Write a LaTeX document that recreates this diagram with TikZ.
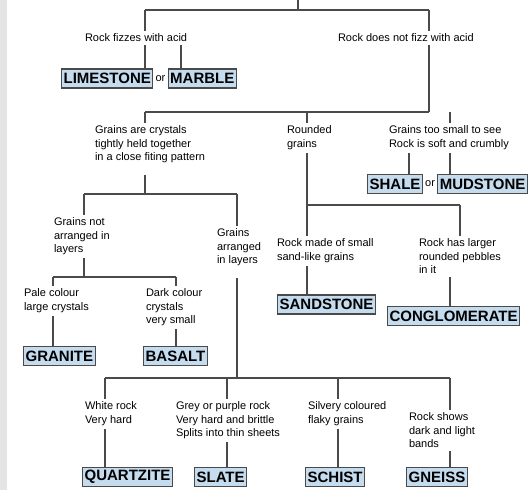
\documentclass[tikz,border=0pt]{standalone}
\usepackage{fontspec}
\setmainfont{Liberation Sans}
\usetikzlibrary{positioning}
\definecolor{rockblue}{HTML}{C5DCEE}
\definecolor{stripgrey}{HTML}{E4E4E4}
\definecolor{linegrey}{HTML}{4A4A4A}
\begin{document}
\begin{tikzpicture}[x=1pt,y=-1pt,
		txt/.style={anchor=north west, align=left, inner sep=0pt, outer xsep=0pt, outer ysep=3pt, font=\fontsize{11}{13.5}\selectfont},
		rock/.style={draw=linegrey, line width=1.2pt, fill=rockblue, inner xsep=2pt, inner ysep=0pt, minimum height=19pt, anchor=west, font=\fontsize{15}{15}\selectfont\bfseries},
		orword/.style={inner sep=0pt, font=\fontsize{11}{11}\selectfont},
		link/.style={draw=linegrey, line width=1.2pt}]
			\fill[white] (0,0) rectangle (528,490);
			\fill[stripgrey] (0,0) rectangle (7,490);
			\useasboundingbox (0,0) rectangle (528,490);
		
			% questions
			\node[txt] (fizz) at (85,31) {Rock fizzes with acid};
			\node[txt] (nofizz) at (338,31) {Rock does not fizz with acid};
			\node[txt] (crystals) at (95,123) {Grains are crystals\\tightly held together\\in a close fiting pattern};
			\node[txt] (rounded) at (287,123) {Rounded\\grains};
			\node[txt] (small) at (389,123) {Grains too small to see\\Rock is soft and crumbly};
			\node[txt] (notlayer) at (54,215) {Grains not\\arranged in\\layers};
			\node[txt] (layer) at (217,226) {Grains\\arranged\\in layers};
			\node[txt] (sandy) at (277,236) {Rock made of small\\sand-like grains};
			\node[txt] (pebbly) at (419,236) {Rock has larger\\rounded pebbles\\in it};
			\node[txt] (pale) at (24,286) {Pale colour\\large crystals};
			\node[txt] (dark) at (146,286) {Dark colour\\crystals\\very small};
			\node[txt] (white) at (85,399) {White rock\\Very hard};
			\node[txt] (grey) at (176,399) {Grey or purple rock\\Very hard and brittle\\Splits into thin sheets};
			\node[txt] (silvery) at (308,399) {Silvery coloured\\flaky grains};
			\node[txt] (bands) at (409,410) {Rock shows\\dark and light\\bands};
			
			% rocks
			\node[rock] (limestone) at (61,78.5) {LIMESTONE};
			\node[orword, right=2pt of limestone] (orA) {or};
			\node[rock, right=2pt of orA] (marble) {MARBLE};
			\node[rock] (shale) at (367,184) {SHALE};
			\node[orword, right=2pt of shale] (orB) {or};
			\node[rock, right=2pt of orB] (mudstone) {MUDSTONE};
			\node[rock] (sandstone) at (277,304.5) {SANDSTONE};
			\node[rock] (congl) at (387,316) {CONGLOMERATE};
			\node[rock] (granite) at (23,356) {GRANITE};
			\node[rock] (basalt) at (143,356) {BASALT};
			\node[rock] (quartzite) at (82,477) {QUARTZITE};
			\node[rock] (slate) at (194,477) {SLATE};
			\node[rock] (schist) at (305,477) {SCHIST};
			\node[rock] (gneiss) at (406,477) {GNEISS};
			
			% forks
			\coordinate (top) at (298,0);
			\coordinate (fork1) at (298,10);
			\coordinate (f1L) at (145,10);
			\coordinate (f1R) at (429,10);
			\coordinate (mcol) at (181,60);
			\coordinate (fork2) at (429,112);
			\coordinate (f2L) at (145,112);
			\coordinate (f2M) at (307,112);
			\coordinate (f2R) at (450,112);
			\coordinate (scol) at (409,165);
			\coordinate (fork3) at (145,194);
			\coordinate (f3L) at (84,194);
			\coordinate (f3R) at (237,194);
			\coordinate (fork4) at (307,205);
			\coordinate (f4R) at (460,205);
			\coordinate (fork5) at (84,277);
			\coordinate (f5L) at (53,277);
			\coordinate (f5R) at (176,277);
			\coordinate (fork6) at (237,378);
			\coordinate (f6a) at (105,378);
			\coordinate (f6b) at (227,378);
			\coordinate (f6c) at (338,378);
			\coordinate (f6d) at (450,378);
			
			% lines
			\draw[link] (top) -- (fork1);
			\draw[link] (f1L) -- (f1R);
			\draw[link] (f1L) -- (f1L |- fizz.north);
			\draw[link] (f1R) -- (f1R |- nofizz.north);
			\draw[link] (f1L |- fizz.south) -- (f1L |- limestone.north);
			\draw[link] (mcol |- fizz.south) -- (mcol |- marble.north);
			\draw[link] (f1R |- nofizz.south) -- (fork2);
			\draw[link] (f2L) -- (fork2);
			\draw[link] (f2L) -- (f2L |- crystals.north);
			\draw[link] (f2M) -- (f2M |- rounded.north);
			\draw[link] (f2R) -- (f2R |- small.north);
			\draw[link] (scol |- small.south) -- (scol |- shale.north);
			\draw[link] (f2R |- small.south) -- (f2R |- mudstone.north);
			\draw[link, shorten <=9pt] (fork3 |- crystals.south) -- (fork3);
			\draw[link] (f3L) -- (f3R);
			\draw[link] (f3L) -- (f3L |- notlayer.north);
			\draw[link] (f3R) -- (f3R |- layer.north);
			\draw[link] (f2M |- rounded.south) -- (f2M |- sandy.north);
			\draw[link] (fork4) -- (f4R);
			\draw[link] (f4R) -- (f4R |- pebbly.north);
			\draw[link] (f2M |- sandy.south) -- (f2M |- sandstone.north);
			\draw[link] (f2R |- pebbly.south) -- (f2R |- congl.north);
			\draw[link] (f3L |- notlayer.south) -- (fork5);
			\draw[link] (f5L) -- (f5R);
			\draw[link] (f5L) -- (f5L |- pale.north);
			\draw[link] (f5R) -- (f5R |- dark.north);
			\draw[link] (f5L |- pale.south) -- (f5L |- granite.north);
			\draw[link] (f5R |- dark.south) -- (f5R |- basalt.north);
			\draw[link, shorten <=9pt] (f3R |- layer.south) -- (fork6);
			\draw[link] (f6a) -- (f6d);
			\draw[link] (f6a) -- (f6a |- white.north);
			\draw[link] (f6b) -- (f6b |- grey.north);
			\draw[link] (f6c) -- (f6c |- silvery.north);
			\draw[link] (f6d) -- (f6d |- bands.north);
			\draw[link] (f6a |- white.south) -- (f6a |- quartzite.north);
			\draw[link] (f6b |- grey.south) -- (f6b |- slate.north);
			\draw[link] (f6c |- silvery.south) -- (f6c |- schist.north);
			\draw[link] (f6d |- bands.south) -- (f6d |- gneiss.north);
		\end{tikzpicture}
\end{document}
